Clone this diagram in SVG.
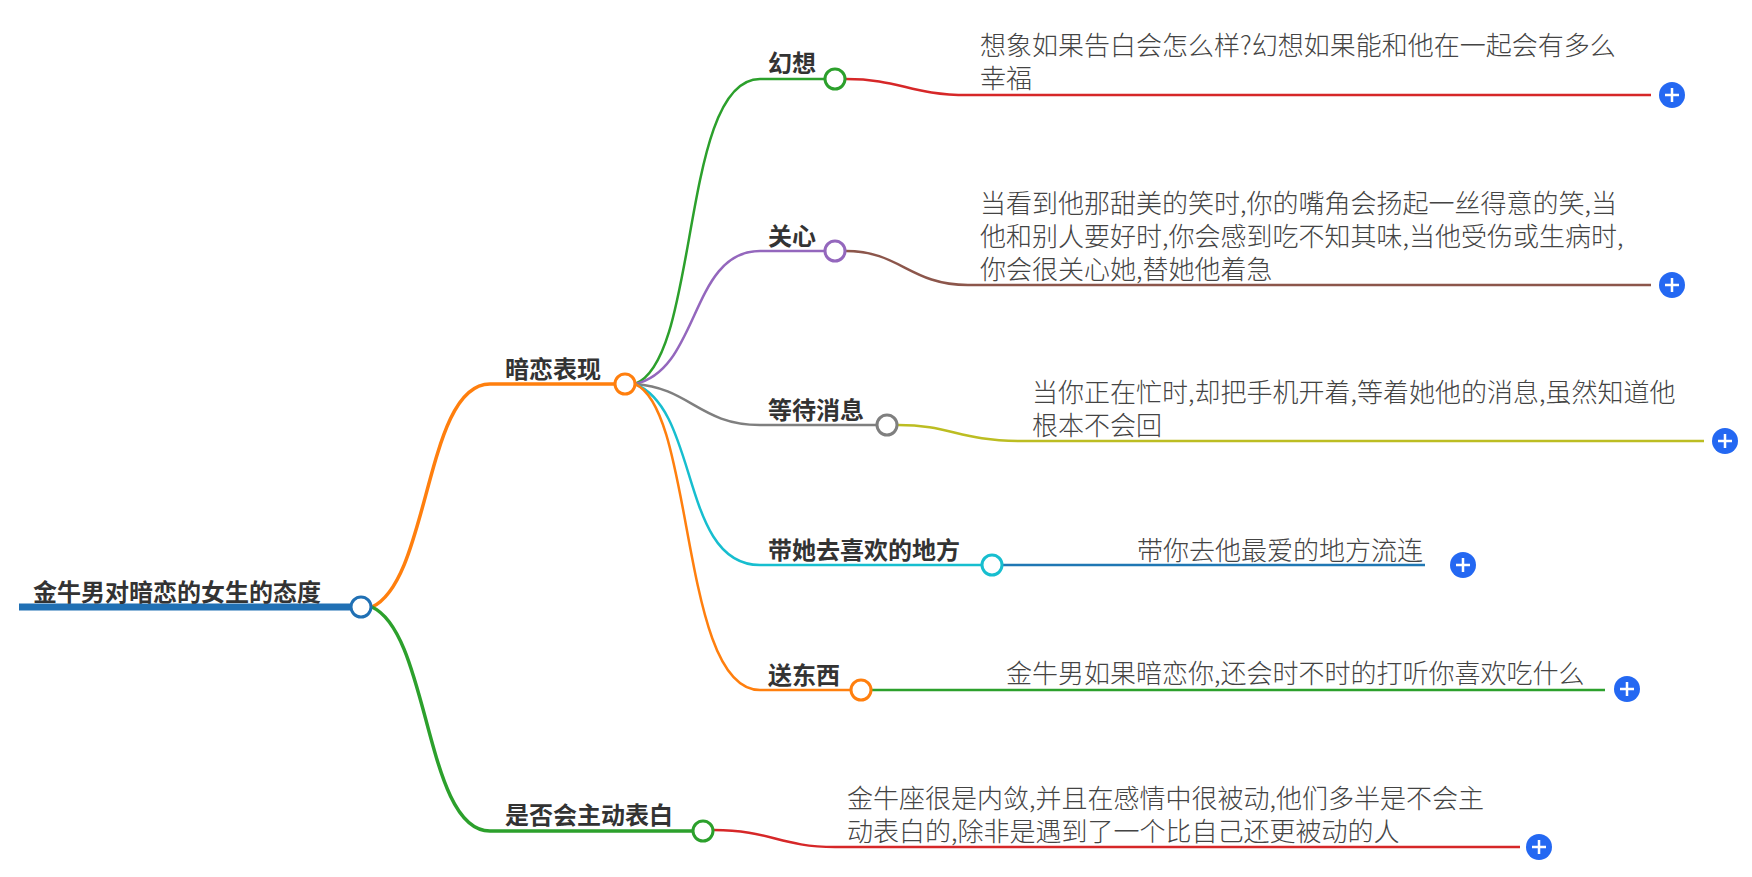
<svg xmlns="http://www.w3.org/2000/svg" width="1752" height="877" viewBox="0 0 1752 877">
<style>
text{font-family:"Noto Sans CJK SC","Noto Sans",sans-serif;}
.t{font-size:24px;font-weight:700;fill:#333}
.d{font-size:26px;font-weight:300;fill:#444}
.c{fill:none;stroke-width:2.5;stroke-linecap:butt}
.n{fill:#fff;stroke-width:3}
.p{fill:#2468f2}
.pl{stroke:#fff;stroke-width:2.5}
</style>
<defs><g id="plus"><circle class="p" r="13"/><path class="pl" d="M-7 0H7M0-7V7"/></g></defs>
<rect width="1752" height="877" fill="#fff"/>
<g id="connectors">
<path d="M19 607H352" fill="none" stroke="#2070b4" stroke-width="7"/>
<path class="c" style="stroke-width:3.5" stroke="#ff7f0e" d="M372 607C430 580 425 384 490 384H615"/>
<path class="c" style="stroke-width:3.5" stroke="#2ca02c" d="M372 607C430 634 425 831 490 831H693"/>
<path class="c" stroke="#2ca02c" d="M635 384C700 360 680 79 760 79H825"/>
<path class="c" stroke="#9467bd" d="M635 384C700 370 690 251 760 251H825"/>
<path class="c" stroke="#7f7f7f" d="M635 384C690 388 700 425 760 425H877"/>
<path class="c" stroke="#17becf" d="M635 384C700 410 680 565 760 565H982"/>
<path class="c" stroke="#ff7f0e" d="M635 384C695 410 680 690 760 690H851"/>
<path class="c" stroke="#d62728" d="M846 79C900 79 910 95 968 95H1651"/>
<path class="c" stroke="#8c564b" d="M846 251C900 251 910 285 968 285H1651"/>
<path class="c" stroke="#bcbd22" d="M898 425C950 425 960 441 1020 441H1704"/>
<path class="c" stroke="#1f77b4" d="M1003 565H1425"/>
<path class="c" stroke="#2ca02c" d="M872 690H1605"/>
<path class="c" stroke="#d62728" d="M714 830C770 830 780 847 835 847H1520"/>
</g>
<g id="root"><text class="t" x="33" y="601">金牛男对暗恋的女生的态度</text><circle class="n" stroke="#2070b4" cx="361" cy="607" r="10"/></g>
<g id="n1"><text class="t" x="505" y="378">暗恋表现</text><circle class="n" stroke="#ff7f0e" cx="625" cy="384" r="10"/></g>
<g id="n2"><text class="t" x="768" y="72">幻想</text><circle class="n" stroke="#2ca02c" cx="835" cy="79" r="10"/></g>
<g id="n3"><text class="t" x="768" y="245">关心</text><circle class="n" stroke="#9467bd" cx="835" cy="251" r="10"/></g>
<g id="n4"><text class="t" x="768" y="419">等待消息</text><circle class="n" stroke="#7f7f7f" cx="887" cy="425" r="10"/></g>
<g id="n5"><text class="t" x="768" y="559">带她去喜欢的地方</text><circle class="n" stroke="#17becf" cx="992" cy="565" r="10"/></g>
<g id="n6"><text class="t" x="768" y="684">送东西</text><circle class="n" stroke="#ff7f0e" cx="861" cy="690" r="10"/></g>
<g id="n7"><text class="t" x="505" y="824">是否会主动表白</text><circle class="n" stroke="#2ca02c" cx="703" cy="831" r="10"/></g>
<g id="d1"><text class="d" x="980" y="55">想象如果告白会怎么样?幻想如果能和他在一起会有多么</text><text class="d" x="980" y="88">幸福</text><use href="#plus" x="1672" y="95"/></g>
<g id="d2"><text class="d" x="980" y="213">当看到他那甜美的笑时,你的嘴角会扬起一丝得意的笑,当</text><text class="d" x="980" y="246">他和别人要好时,你会感到吃不知其味,当他受伤或生病时,</text><text class="d" x="980" y="279">你会很关心她,替她他着急</text><use href="#plus" x="1672" y="285"/></g>
<g id="d3"><text class="d" x="1032" y="402">当你正在忙时,却把手机开着,等着她他的消息,虽然知道他</text><text class="d" x="1032" y="435">根本不会回</text><use href="#plus" x="1725" y="441"/></g>
<g id="d4"><text class="d" x="1137" y="560">带你去他最爱的地方流连</text><use href="#plus" x="1463" y="565"/></g>
<g id="d5"><text class="d" x="1006" y="683">金牛男如果暗恋你,还会时不时的打听你喜欢吃什么</text><use href="#plus" x="1627" y="689"/></g>
<g id="d6"><text class="d" x="847" y="808">金牛座很是内敛,并且在感情中很被动,他们多半是不会主</text><text class="d" x="847" y="841">动表白的,除非是遇到了一个比自己还更被动的人</text><use href="#plus" x="1539" y="847"/></g>
</svg>
